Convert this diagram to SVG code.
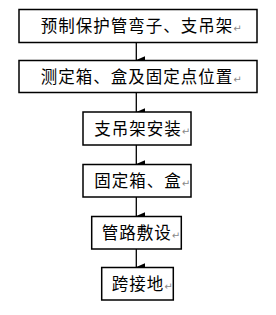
<svg xmlns="http://www.w3.org/2000/svg" width="276" height="315" viewBox="0 0 276 315">
<defs>
<style>
.box{fill:#fff;stroke:#000;stroke-width:1.5}
.t{font-family:"Noto Sans CJK SC","Liberation Sans",sans-serif;font-size:16.5px;letter-spacing:1px;fill:#000}
.rm{font-family:"DejaVu Sans",sans-serif;font-size:10px;fill:#888;letter-spacing:0}
.ln{stroke:#000;stroke-width:1.3;fill:none}
</style>
<marker id="ah" markerWidth="8" markerHeight="9" refX="3.5" refY="8" orient="auto" markerUnits="userSpaceOnUse" viewBox="0 0 7 8">
<path d="M0,0 L7,0 L3.5,8 Z" fill="#000"/>
</marker>
</defs>
<rect width="276" height="315" fill="#fff"/>
<g id="connectors">
<line class="ln" x1="136.3" y1="42" x2="136.3" y2="60" marker-end="url(#ah)"/>
<line class="ln" x1="136.3" y1="93" x2="136.3" y2="112" marker-end="url(#ah)"/>
<line class="ln" x1="136.3" y1="145" x2="136.3" y2="164" marker-end="url(#ah)"/>
<line class="ln" x1="136.3" y1="197" x2="136.3" y2="216" marker-end="url(#ah)"/>
<line class="ln" x1="136.3" y1="249" x2="136.3" y2="267" marker-end="url(#ah)"/>
</g>
<g id="n1">
<rect class="box" x="19" y="9.5" width="238" height="33"/>
<text class="t" x="40.7" y="32">预制保护管弯子、支吊架<tspan class="rm">↵</tspan></text>
</g>
<g id="n2">
<rect class="box" x="19" y="60.5" width="238" height="32"/>
<text class="t" x="40.7" y="83">测定箱、盒及固定点位置<tspan class="rm">↵</tspan></text>
</g>
<g id="n3">
<rect class="box" x="83" y="112" width="108" height="33"/>
<text class="t" x="94.3" y="134.5">支吊架安装<tspan class="rm">↵</tspan></text>
</g>
<g id="n4">
<rect class="box" x="83" y="164.5" width="108" height="32.5"/>
<text class="t" x="94.3" y="186.5">固定箱、盒<tspan class="rm">↵</tspan></text>
</g>
<g id="n5">
<rect class="box" x="91.7" y="216.5" width="89.6" height="32.5"/>
<text class="t" x="101.7" y="238.5">管路敷设<tspan class="rm">↵</tspan></text>
</g>
<g id="n6">
<rect class="box" x="101.7" y="267.5" width="71.6" height="32.5"/>
<text class="t" x="111.7" y="290">跨接地<tspan class="rm">↵</tspan></text>
</g>
</svg>
